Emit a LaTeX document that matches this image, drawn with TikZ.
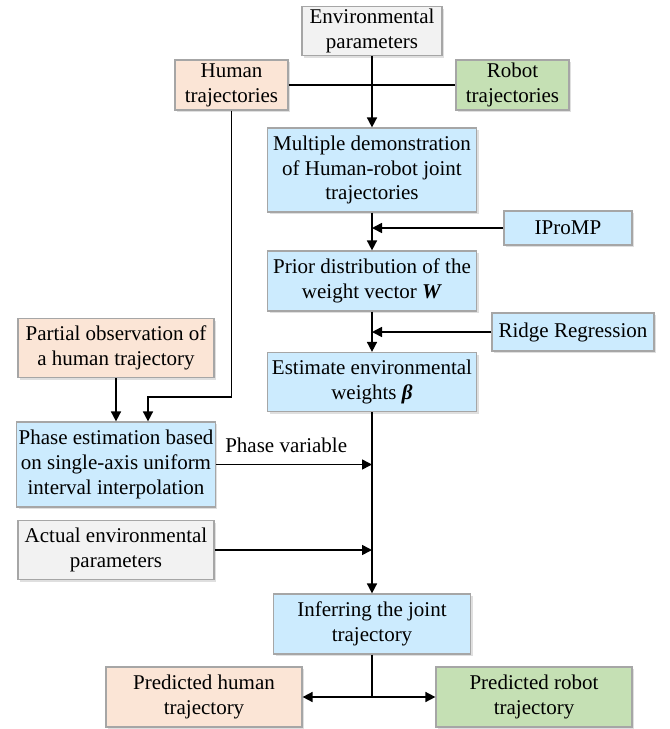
\documentclass[tikz,border=0pt]{standalone}
\usepackage{fontspec}
\setmainfont{Liberation Serif}
\usetikzlibrary{arrows.meta,shadows}
\definecolor{envgray}{HTML}{F2F2F2}
\definecolor{humanorange}{HTML}{FBE5D6}
\definecolor{robotgreen}{HTML}{C5E0B4}
\definecolor{stepblue}{HTML}{CCEBFE}
\definecolor{edgegray}{HTML}{A6A6A6}
\tikzset{
  box/.style={draw=edgegray, line width=0.6pt, align=center, inner sep=1pt,
    font=\fontsize{10.5}{12.4}\selectfont,
    drop shadow={opacity=0.25, shadow xshift=1pt, shadow yshift=-1pt}},
  envbox/.style={box, fill=envgray},
  humanbox/.style={box, fill=humanorange},
  robotbox/.style={box, fill=robotgreen},
  stepbox/.style={box, fill=stepblue},
  arr/.style={thick, -{Triangle[length=5pt,width=5pt]}}
}
\begin{document}
\begin{tikzpicture}[x=0.5pt,y=-0.5pt]
    \useasboundingbox (0,0) rectangle (670,729);
    % inputs
    \path (372,31)    node[envbox, minimum width=70pt, minimum height=24.5pt] (env) {Environmental\\parameters};
    \path (231.5,85)  node[humanbox, minimum width=56.5pt, minimum height=25pt] (human) {Human\\trajectories};
    \path (512.5,85)  node[robotbox, minimum width=56.5pt, minimum height=25pt] (robot) {Robot\\trajectories};
    % learning
    \path (372,170)   node[stepbox, minimum width=104.5pt, minimum height=42pt] (demo) {Multiple demonstration\\of Human-robot joint\\trajectories};
    \path (568,228)   node[stepbox, minimum width=64pt, minimum height=17pt] (iprom) {IProMP};
    \path (372,281)   node[stepbox, minimum width=104.5pt, minimum height=30pt] (prior) {Prior distribution of the\\weight vector \textbf{\textit{W}}};
    \path (573,332)   node[stepbox, minimum width=81pt, minimum height=19pt] (ridge) {Ridge Regression};
    \path (372,382)   node[stepbox, minimum width=104.5pt, minimum height=29.5pt] (estim) {Estimate environmental\\weights \textbf{\textit{β}}};
    % inference
    \path (116,348)   node[humanbox, minimum width=98pt, minimum height=29.5pt] (partial) {Partial observation of\\a human trajectory};
    \path (116,464.5) node[stepbox, minimum width=98pt, minimum height=42.5pt] (phase) {Phase estimation based\\on single-axis uniform\\interval interpolation};
    \path (116,550)   node[envbox, minimum width=98pt, minimum height=29.5pt] (actual) {Actual environmental\\parameters};
    \path (372,624)   node[stepbox, minimum width=98.5pt, minimum height=30pt] (infer) {Inferring the joint\\trajectory};
    \path (204,697)   node[humanbox, minimum width=98pt, minimum height=30pt] (predhuman) {Predicted human\\trajectory};
    \path (534,697)   node[robotbox, minimum width=98pt, minimum height=30pt] (predrobot) {Predicted robot\\trajectory};
    % junctions on the main line
    \coordinate (j1) at (372,228);
    \coordinate (j2) at (372,332);
    \coordinate (j3) at (372,464.5);
    \coordinate (j4) at (372,550);
    \coordinate (j5) at (372,697);
    \coordinate (k1) at (148,397);
    % connectors
    \draw [thick] (human) -- (robot);
    \draw [arr] (env) -- (demo);
    \draw [arr] (demo) -- (prior);
    \draw [arr] (iprom) -- (j1);
    \draw [arr] (prior) -- (estim);
    \draw [arr] (ridge) -- (j2);
    \draw [arr] (estim) -- (infer);
    \draw [arr] (phase) -- (j3) node[pos=0.45, above=2pt, font=\fontsize{10.5}{12.4}\selectfont] (phaselabel) {Phase variable};
    \draw [arr] (actual) -- (j4);
    \draw [arr] (partial) -- (phase);
    \draw [arr] (human) |- (k1) -- (k1 |- phase.north);
    \draw [thick] (infer) -- (j5);
    \draw [arr] (j5) -- (predhuman);
    \draw [arr] (j5) -- (predrobot);
\end{tikzpicture}
\end{document}
